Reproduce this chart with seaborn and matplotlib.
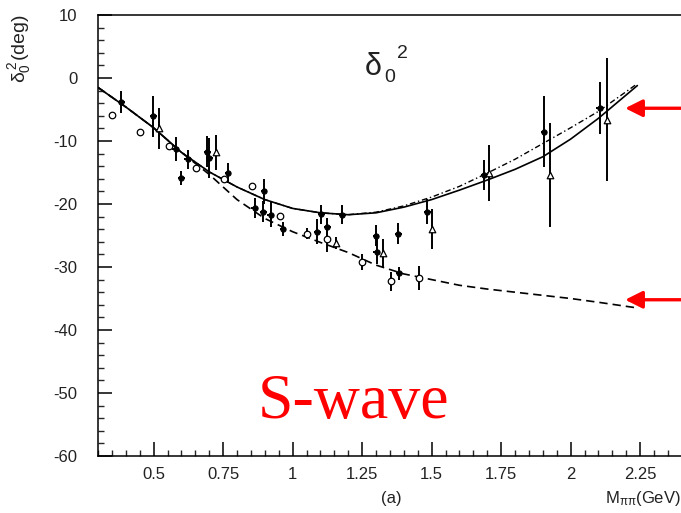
import numpy as np
import pandas as pd
import matplotlib
matplotlib.use("Agg")
import matplotlib.pyplot as plt
import seaborn as sns
from matplotlib.ticker import MultipleLocator, FuncFormatter

# ---------------- data ----------------
curve_x = [0.30, 0.40, 0.50, 0.60, 0.70, 0.80, 0.90, 1.00, 1.10, 1.20,
           1.30, 1.40, 1.50, 1.60, 1.70, 1.80, 1.90, 2.00, 2.10, 2.24]
solid_y = [-1.5, -4.6, -7.9, -11.8, -14.9, -17.3, -19.3, -20.7, -21.4, -21.7,
           -21.4, -20.5, -19.3, -17.8, -16.2, -14.5, -12.5, -9.7, -6.4, -1.2]
dashdot_y = [-1.5, -4.6, -7.9, -11.8, -14.9, -17.3, -19.3, -20.7, -21.4, -21.7,
             -21.3, -20.3, -18.9, -17.2, -15.1, -12.9, -10.4, -7.9, -5.3, -0.9]
dashed_y = [-1.5, -4.6, -7.9, -11.8, -15.3, -19.3, -22.3, -24.4, -26.1, -27.7,
            -29.7, -31.1, -32.0, -32.9, -33.5, -34.0, -34.5, -35.0, -35.6, -36.5]

circ_x = [0.351, 0.451, 0.555, 0.651, 0.753, 0.855, 0.954, 1.050, 1.122, 1.250, 1.355, 1.454]
circ_y = [-5.9, -8.5, -10.8, -14.3, -16.1, -17.1, -21.9, -24.7, -25.6, -29.2, -32.3, -31.8]
circ_e = [0.0, 0.0, 0.0, 0.0, 0.0, 0.0, 0.0, 0.9, 2.0, 1.2, 1.5, 1.9]

fill_x = [0.384, 0.499, 0.579, 0.600, 0.623, 0.693, 0.700, 0.768, 0.863, 0.895,
          0.897, 0.921, 0.966, 1.089, 1.103, 1.125, 1.179, 1.300, 1.302, 1.380,
          1.383, 1.484, 1.688, 1.904, 2.105]
fill_y = [-3.8, -6.1, -11.2, -15.9, -12.9, -11.7, -12.7, -15.1, -20.7, -21.2,
          -18.0, -21.7, -24.0, -24.4, -21.6, -23.6, -21.7, -25.0, -27.6, -24.7,
          -31.0, -21.2, -15.4, -8.5, -4.8]
fill_e = [1.8, 3.3, 1.9, 1.1, 1.5, 2.5, 3.2, 1.6, 1.6, 1.7,
          2.0, 2.0, 1.1, 2.0, 1.5, 1.3, 1.5, 1.7, 2.0, 1.7,
          1.0, 2.0, 2.4, 5.6, 4.1]

tri_x = [0.519, 0.723, 1.155, 1.325, 1.502, 1.706, 1.926, 2.130]
tri_y = [-8.0, -11.8, -26.2, -27.8, -24.0, -15.1, -15.4, -6.6]
tri_e = [3.2, 2.8, 1.0, 2.2, 3.2, 4.5, 8.3, 9.7]

arrow_y = [-4.8, -35.2]

yticks = [-60, -50, -40, -30, -20, -10, 0, 10]
xticks = [0.5, 0.75, 1.0, 1.25, 1.5, 1.75, 2.0, 2.25]

# ---------------- figure ----------------
sns.set_style("ticks")
plt.rcParams["font.family"] = ["Liberation Sans", "DejaVu Sans"]
plt.rcParams["mathtext.fontset"] = "custom"
plt.rcParams["mathtext.rm"] = "Liberation Sans"
plt.rcParams["mathtext.it"] = "Liberation Sans"
plt.rcParams["axes.unicode_minus"] = False

W, H = 681, 513
fig = plt.figure(figsize=(W / 100, H / 100), dpi=100)
ax = fig.add_axes([98 / W, 1 - 456 / H, (687.4 - 98) / W, (456 - 15) / H])

curves = pd.DataFrame({"x": curve_x, "solid": solid_y, "dashdot": dashdot_y, "dashed": dashed_y})
sns.lineplot(data=curves, x="x", y="solid", ax=ax, color="black", lw=1.2, sort=False)
sns.lineplot(data=curves, x="x", y="dashdot", ax=ax, color="black", lw=1.0,
             linestyle=(0, (4, 2, 1, 2)), sort=False)
sns.lineplot(data=curves, x="x", y="dashed", ax=ax, color="black", lw=1.2,
             linestyle=(0, (5, 3)), sort=False)

# error bars
ax.errorbar(fill_x, fill_y, yerr=fill_e, xerr=0.012, fmt="none", ecolor="black", elinewidth=1.4, capsize=0)
ax.errorbar(tri_x, tri_y, yerr=tri_e, fmt="none", ecolor="black", elinewidth=1.4, capsize=0)
ax.errorbar(circ_x, circ_y, yerr=circ_e, fmt="none", ecolor="black", elinewidth=1.4, capsize=0)

sns.scatterplot(x=fill_x, y=fill_y, ax=ax, marker="o", s=14, color="black", edgecolor="black", linewidth=0.8, zorder=5)
sns.scatterplot(x=tri_x, y=tri_y, ax=ax, marker="^", s=22, facecolor="white", edgecolor="black", linewidth=0.9, zorder=5)
sns.scatterplot(x=circ_x, y=circ_y, ax=ax, marker="o", s=22, facecolor="white", edgecolor="black", linewidth=0.9, zorder=5)

ax.set_xlim(0.3, 2.42)
ax.set_ylim(-60, 10)
ax.set_xticks(xticks)
ax.set_yticks(yticks)
ax.xaxis.set_minor_locator(MultipleLocator(0.05))
ax.yaxis.set_minor_locator(MultipleLocator(2))
ax.xaxis.set_major_formatter(FuncFormatter(lambda v, p: f"{v:g}"))
ax.yaxis.set_major_formatter(FuncFormatter(lambda v, p: f"{v:g}"))
ax.tick_params(which="major", direction="in", length=10, width=1.1, labelsize=12,
               colors="black", labelcolor="#222222")
ax.tick_params(which="minor", direction="in", length=4.5, width=1.0)
ax.tick_params(axis="y", which="major", pad=15)
ax.tick_params(axis="x", which="major", pad=8)
ax.set_xlabel("")
ax.set_ylabel("")
for s in ax.spines.values():
    s.set_linewidth(1.1)
    s.set_color("black")

# arrows
for ay in arrow_y:
    ax.annotate("", xy=(2.196, ay), xytext=(2.45, ay), xycoords="data", textcoords="data",
                arrowprops=dict(arrowstyle="-|>", color="red", lw=2.4, mutation_scale=26,
                                shrinkA=0, shrinkB=0),
                annotation_clip=False)

# texts
fig.text(20 / W, 1 - 15 / H, r"$\delta_0^{\,2}$(deg)", rotation=90, ha="center", va="top",
         fontsize=14, color="#222222")
fig.text(365 / W, 1 - 75 / H, "\u03b4", fontsize=22, ha="left", va="baseline", color="#222222")
fig.text(384 / W, 1 - 82 / H, "0", fontsize=14, ha="left", va="baseline", color="#222222")
fig.text(397 / W, 1 - 58 / H, "2", fontsize=14, ha="left", va="baseline", color="#222222")
fig.text(391 / W, 1 - 498 / H, "(a)", fontsize=12, ha="center", va="center", color="#222222")
fig.text(681 / W, 1 - 498 / H, r"M$_{\pi\pi}$(GeV)", fontsize=12, ha="right", va="center", color="#222222")
fig.text(258 / W, 1 - 418 / H, "S-wave", fontsize=46, ha="left", va="baseline", color="red",
         family=["Liberation Serif", "DejaVu Serif"])

fig.savefig("out.png", dpi=100)
